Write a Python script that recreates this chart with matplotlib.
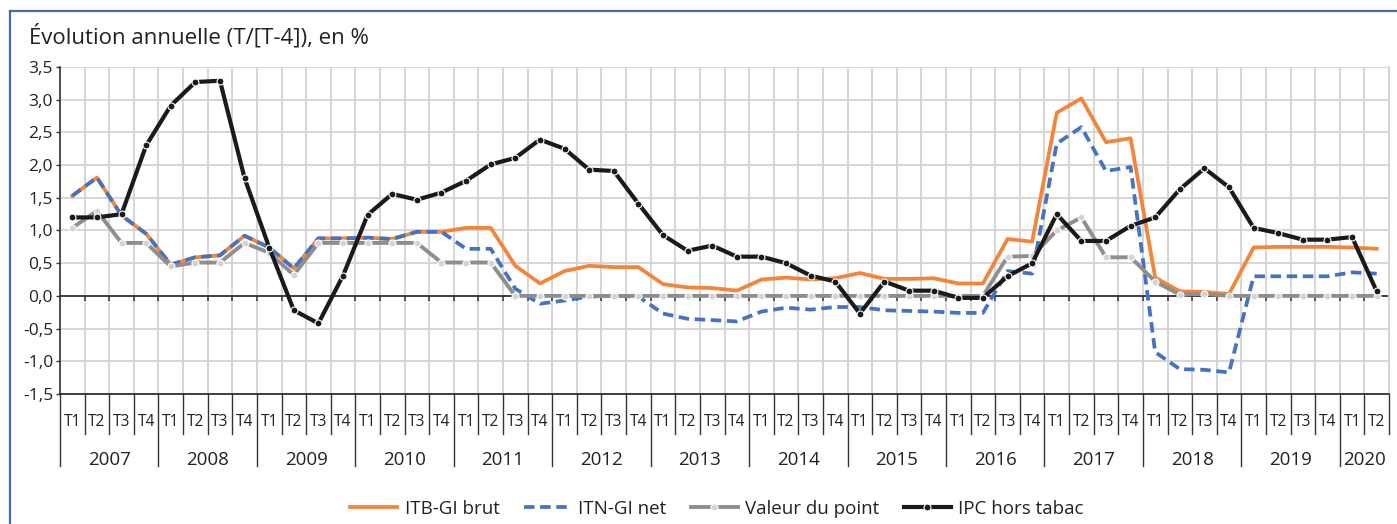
import numpy as np
import matplotlib
matplotlib.use("Agg")
import matplotlib.pyplot as plt
from matplotlib.lines import Line2D
import matplotlib.transforms as mtransforms

plt.rcParams['font.family'] = ['Open Sans', 'DejaVu Sans']

# --- données (évolution annuelle T/[T-4], en %) ---
annees = ['2007', '2008', '2009', '2010', '2011', '2012', '2013',
          '2014', '2015', '2016', '2017', '2018', '2019', '2020']
trimestres = ['T1', 'T2', 'T3', 'T4']
nb_trim_par_annee = [4] * 13 + [2]

itb_brut = [1.53, 1.81, 1.23, 0.95, 0.48, 0.59, 0.62, 0.92, 0.74, 0.42,
            0.88, 0.88, 0.89, 0.87, 0.98, 0.98, 1.04, 1.04, 0.46, 0.19,
            0.38, 0.46, 0.44, 0.44, 0.18, 0.13, 0.12, 0.08, 0.25, 0.28,
            0.25, 0.27, 0.35, 0.26, 0.26, 0.27, 0.19, 0.19, 0.87, 0.83,
            2.80, 3.02, 2.35, 2.41, 0.28, 0.07, 0.06, 0.03, 0.74, 0.75,
            0.75, 0.75, 0.74, 0.72]
itn_net = [1.53, 1.81, 1.23, 0.95, 0.48, 0.59, 0.62, 0.92, 0.74, 0.42,
           0.88, 0.88, 0.89, 0.87, 0.98, 0.98, 0.72, 0.72, 0.11, -0.12,
           -0.07, -0.01, 0.00, -0.01, -0.27, -0.35, -0.37, -0.39, -0.24, -0.18,
           -0.21, -0.17, -0.17, -0.22, -0.23, -0.24, -0.26, -0.26, 0.38, 0.34,
           2.33, 2.58, 1.91, 1.97, -0.86, -1.12, -1.13, -1.17, 0.30, 0.30,
           0.30, 0.30, 0.36, 0.34]
valeur_point = [1.04, 1.30, 0.81, 0.81, 0.45, 0.51, 0.51, 0.81, 0.66, 0.32,
                0.81, 0.81, 0.81, 0.81, 0.81, 0.51, 0.51, 0.51, 0.00, 0.00,
                0.00, 0.00, 0.00, 0.00, 0.00, 0.00, 0.00, 0.00, 0.00, 0.00,
                0.00, 0.00, 0.00, 0.00, 0.00, 0.00, 0.00, 0.00, 0.60, 0.61,
                1.00, 1.20, 0.59, 0.59, 0.22, 0.02, 0.03, 0.00, 0.00, 0.00,
                0.00, 0.00, 0.00, 0.00]
ipc_hors_tabac = [1.20, 1.20, 1.25, 2.30, 2.91, 3.27, 3.29, 1.80, 0.74, -0.22,
                  -0.42, 0.31, 1.24, 1.56, 1.47, 1.58, 1.76, 2.01, 2.11, 2.39,
                  2.25, 1.93, 1.91, 1.41, 0.93, 0.69, 0.77, 0.60, 0.60, 0.50,
                  0.31, 0.22, -0.27, 0.22, 0.08, 0.08, -0.03, -0.03, 0.30, 0.50,
                  1.25, 0.84, 0.84, 1.07, 1.20, 1.63, 1.95, 1.66, 1.04, 0.96,
                  0.86, 0.86, 0.90, 0.07]

n = len(itb_brut)
x = np.arange(n)

W, H = 1397, 524
fig = plt.figure(figsize=(W / 100, H / 100), dpi=100)
ax = fig.add_axes([60 / W, 1 - 394 / H, (1389 - 60) / W, (394 - 67) / H])

orange = '#F5843B'
bleu = '#4472C4'
gris = '#8E8E8E'
noir = '#1A1A1A'
texte = '#222222'

ax.plot(x, itb_brut, color=orange, lw=2.7, zorder=3, label='ITB-GI brut')
ax.plot(x, itn_net, color=bleu, lw=2.7, dashes=(2.8, 1.5), zorder=4,
        label='ITN-GI net')
ax.plot(x, valeur_point, color=gris, lw=2.8, marker='o', ms=5,
        mfc='#D4D4D4', mec='white', mew=0.8, zorder=5, label='Valeur du point')
ax.plot(x, ipc_hors_tabac, color=noir, lw=3.0, marker='o', ms=5,
        mfc=noir, mec='white', mew=0.8, zorder=6, label='IPC hors tabac')

# axes et grille
ax.set_xlim(-0.5, n - 0.5)
ax.set_ylim(-1.5, 3.5)
yticks = np.arange(-1.5, 3.51, 0.5)
ax.set_yticks(yticks)
ax.set_yticklabels([f"{v:.1f}".replace('.', ',') for v in yticks], fontsize=12.5,
                   color=texte)
ax.tick_params(axis='y', length=3, width=1, color='#333333', pad=2)
bornes = np.arange(-0.5, n, 1.0)
ax.set_xticks(bornes)
ax.set_xticklabels([])
ax.tick_params(axis='x', length=0)
ax.grid(True, color='#D3D3D3', lw=1.3, zorder=0)
ax.set_axisbelow(True)
ax.spines['top'].set_visible(False)
ax.spines['right'].set_color('#D3D3D3')
ax.spines['right'].set_linewidth(1.3)
ax.spines['left'].set_color('#333333')
ax.spines['bottom'].set_color('#222222')
ax.spines['left'].set_linewidth(1.2)
ax.spines['bottom'].set_linewidth(1.2)

ax.axhline(0, color='#333333', lw=1.3, zorder=2)
ax.vlines(bornes, -0.075, 0, color='#333333', lw=1.1, zorder=2)

# axe des catégories (trimestres / années)
trans = mtransforms.blended_transform_factory(ax.transData, ax.transAxes)
debuts_annee = np.cumsum([0] + nb_trim_par_annee[:-1])
for i in range(n):
    ax.text(i, -0.0856, trimestres[i % 4], transform=trans, ha='center',
            va='center', fontsize=11.2, color=texte)
for b in bornes:
    long = (b + 0.5) in debuts_annee
    y_bas = -0.22 if long else -0.1223
    ax.plot([b, b], [0, y_bas], transform=trans, color='#333333', lw=1.0,
            clip_on=False)
for a, d, k in zip(annees, debuts_annee, nb_trim_par_annee):
    ax.text(d + (k - 1) / 2, -0.2018, a, transform=trans, ha='center',
            va='center', fontsize=13.5, color=texte)

# titre
fig.text(29 / W, 1 - 36 / H, 'Évolution annuelle (T/[T-4]), en %', fontsize=16,
         ha='left', va='center', color=texte)

# cadre bleu
fig.add_artist(Line2D([10 / W, 10 / W], [0, 1 - 11 / H], color='#4A67B0', lw=1.6,
                      transform=fig.transFigure))
fig.add_artist(Line2D([10 / W, 1], [1 - 11 / H, 1 - 11 / H], color='#4A67B0', lw=1.6,
                      transform=fig.transFigure))

fig.legend(loc='center', bbox_to_anchor=(717 / W, 1 - 509 / H), ncol=4, frameon=False,
           fontsize=13.5, handlelength=2.5, columnspacing=1.3, handletextpad=0.4,
           labelcolor=texte)

fig.savefig('out.png', dpi=100)
